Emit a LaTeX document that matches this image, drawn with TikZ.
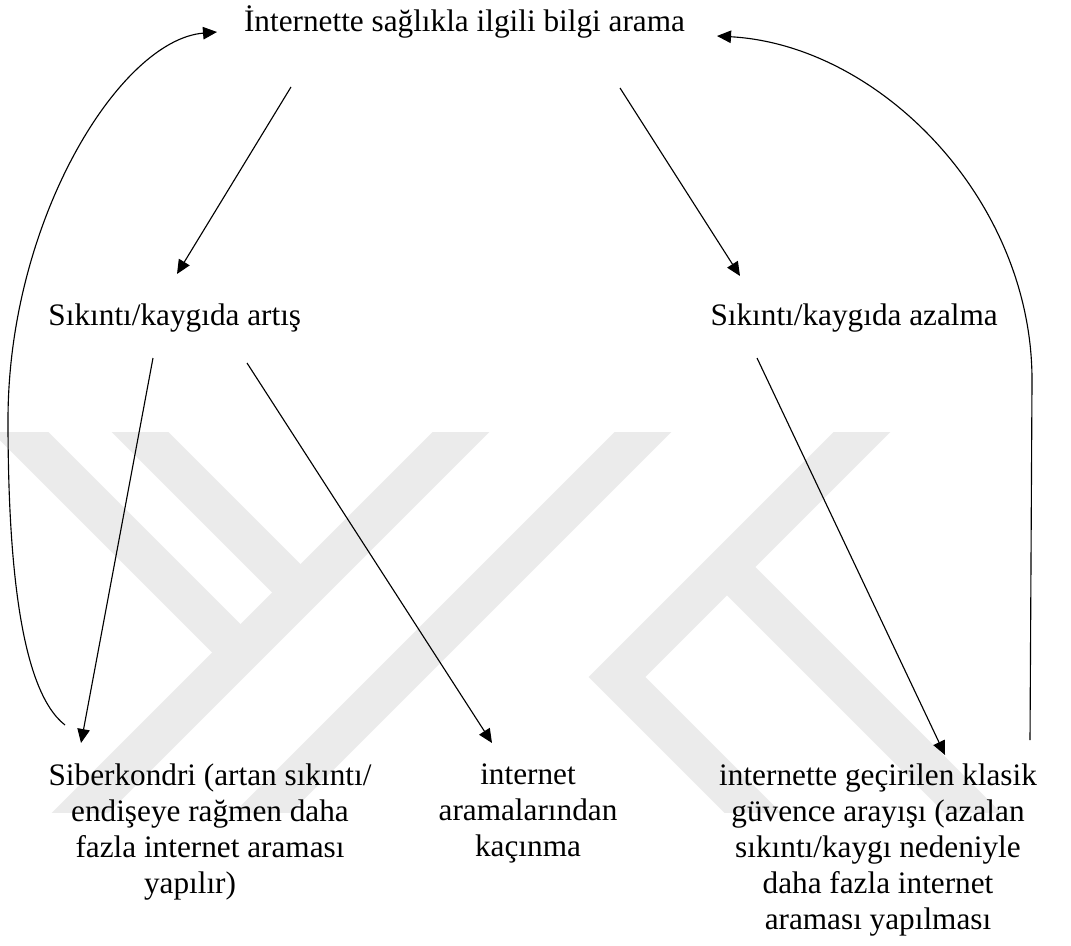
\documentclass[tikz,border=0pt]{standalone}
\usepackage{fontspec}
\setmainfont{Liberation Serif}
\usetikzlibrary{arrows.meta}
\begin{document}
\begin{tikzpicture}[x=0.4pt,y=-0.4pt,
  txt/.style={inner sep=0pt, font=\fontsize{12.5}{14.4}\selectfont},
  blk/.style={txt, align=center, anchor=north},
  conn/.style={line width=0.45pt, -{Triangle[length=5.6pt,width=5pt]}},
  wm/.style={line width=16pt, color=black!8, line cap=butt, line join=miter}]
\useasboundingbox (0,0) rectangle (1071,945);
% watermark (approximate)
\begin{scope}
\clip (0,432) rectangle (1071,812);
\draw[wm] (0,412) -- (240.5,652.5);
\draw[wm] (120,412) -- (300.5,592.5);
\draw[wm] (481,412) -- (23,870);
\draw[wm] (663,412) -- (205,870);
\draw[wm] (882,412) -- (617,677) -- (810,870);
\draw[wm] (727,567) -- (1030,870);
\end{scope}
% nodes
\node[txt, anchor=base] (title) at (464.5,32) {İnternette sağlıkla ilgili bilgi arama};
\node[txt, anchor=base west] (incr) at (48,325) {Sıkıntı/kaygıda artış};
\node[txt, anchor=base west] (decr) at (710,325) {Sıkıntı/kaygıda azalma};
\node[blk] (cyber) at (210,763.5) {Siberkondri (artan sıkıntı/\\endişeye rağmen daha\\fazla internet araması\\yapılır)\rule{16pt}{0pt}};
\node[blk] (avoid) at (528,763.5) {internet\\aramalarından\\kaçınma};
\node[blk] (reas) at (878,763.5) {internette geçirilen klasik\\güvence arayışı (azalan\\sıkıntı/kaygı nedeniyle\\daha fazla internet\\araması yapılması};
% connectors
\draw[conn] ([shift={(-173.5,55)}]title.base) -- ([shift={(129,-51)}]incr.base west);
\draw[conn] ([shift={(155.5,56)}]title.base) -- ([shift={(30,-49)}]decr.base west);
\draw[conn] ([shift={(105,33)}]incr.base west) -- ([shift={(-129,-20.5)}]cyber.north);
\draw[conn] ([shift={(199,38)}]incr.base west) -- ([shift={(-36,-20.5)}]avoid.north);
\draw[conn] ([shift={(47,33)}]decr.base west) -- ([shift={(67,-8.5)}]reas.north);
% feedback curves
\draw[conn] ([shift={(-145,-38.5)}]cyber.north) .. controls (20,690) and (8,560) .. (8,420)
   .. controls (8,220) and (120,40) .. ([shift={(-247.5,0)}]title.base);
\draw[conn] ([shift={(152,-23.5)}]reas.north) -- (1032,380)
   .. controls (1032,200) and (880,45) .. ([shift={(252.5,4)}]title.base);
\end{tikzpicture}
\end{document}
